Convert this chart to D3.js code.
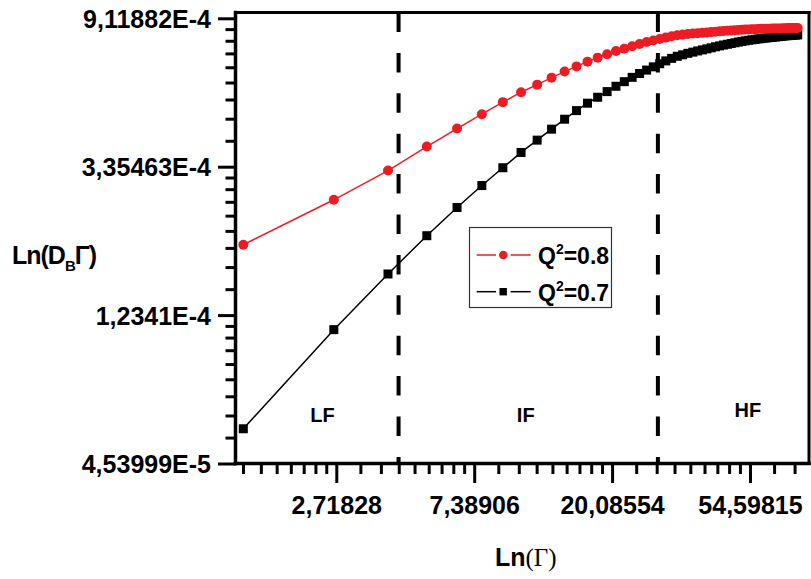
<!DOCTYPE html>
<html><head><meta charset="utf-8">
<script src="https://cdn.jsdelivr.net/npm/d3@7"></script>
<style>
html,body{margin:0;padding:0;background:#fff;}
svg{display:block;font-family:"Liberation Sans",Arial,sans-serif;font-weight:bold;}
</style></head>
<body>
<svg id="chart" width="811" height="579"></svg>
<script>
// ---- data ----
const gammaVals = [1.385,2.67,3.955,5.24,6.525,7.81,9.095,10.38,11.665,12.95,14.235,15.52,16.805,18.09,19.375,20.66,21.945,23.23,24.515,25.8,27.085,28.37,29.655,30.94,32.225,33.51,34.795,36.08,37.365,38.65,39.935,41.22,42.505,43.79,45.075,46.36,47.645,48.93,50.215,51.5,52.785,54.07,55.355,56.64,57.925,59.21,60.495,61.78,63.065,64.35,65.635,66.92,68.205,69.49,70.775,72.06,73.345,74.63,75.915,77.2];
const lnDBG_Q08 = [-8.526,-8.223,-8.026,-7.864,-7.743,-7.646,-7.565,-7.498,-7.447,-7.400,-7.359,-7.324,-7.292,-7.265,-7.242,-7.220,-7.205,-7.188,-7.173,-7.160,-7.150,-7.139,-7.130,-7.121,-7.114,-7.110,-7.106,-7.103,-7.100,-7.098,-7.095,-7.093,-7.090,-7.088,-7.086,-7.084,-7.082,-7.080,-7.079,-7.077,-7.076,-7.075,-7.074,-7.073,-7.072,-7.071,-7.071,-7.070,-7.070,-7.069,-7.069,-7.068,-7.068,-7.067,-7.067,-7.066,-7.066,-7.066,-7.065,-7.065];
const lnDBG_Q07 = [-9.766,-9.098,-8.723,-8.465,-8.275,-8.127,-8.007,-7.904,-7.821,-7.747,-7.680,-7.622,-7.572,-7.532,-7.494,-7.458,-7.427,-7.398,-7.372,-7.349,-7.327,-7.306,-7.287,-7.270,-7.256,-7.246,-7.236,-7.228,-7.220,-7.213,-7.206,-7.199,-7.192,-7.186,-7.180,-7.175,-7.170,-7.165,-7.160,-7.156,-7.152,-7.148,-7.145,-7.142,-7.139,-7.137,-7.134,-7.132,-7.130,-7.128,-7.126,-7.124,-7.122,-7.120,-7.118,-7.117,-7.116,-7.114,-7.113,-7.112];
const seriesNames = ["0.8","0.7"];
const xTickExp = [1,2,3,4];
const xTickLabels = ["2,71828","7,38906","20,08554","54,59815"];
const yTickExp = [-10,-9,-8,-7];
const yTickLabels = ["4,53999E-5","1,2341E-4","3,35463E-4","9,11882E-4"];
const regionBounds = [4.27, 28.0];
const regionNames = ["LF","IF","HF"];
const regionLabelGamma = [2.46, 10.74, 53.8];
const regionLabelLnY = [-9.718, -9.718, -9.687];

// ---- layout ----
const L = 235.5, R = 809, T = 12.5, B = 463.5;
const svg = d3.select("#chart");
const x = d3.scaleLog().base(Math.E).domain([Math.exp(0.269), Math.exp(4.428)]).range([L, R]);
const y = d3.scaleLinear().domain([-10, -10 + (B - T) / 148.4]).range([B, T]);
const RED = "#ec1c24";

// minor ticks (8 linear subdivisions between e^n and e^(n+1))
function minorLn(nFrom, nTo) {
  const out = [];
  for (let n = nFrom; n < nTo; n++) {
    const a = Math.exp(n), b = Math.exp(n + 1);
    for (let j = 1; j <= 8; j++) out.push(Math.log(a + j * (b - a) / 9));
  }
  return out;
}
const yMinor = minorLn(-10, -6).filter(v => v > y.domain()[0] && v < y.domain()[1]);
const xMinor = minorLn(0, 5).map(Math.exp).filter(v => v > x.domain()[0] && v < x.domain()[1]);

// axes
const yAxisMinor = svg.append("g").attr("transform", `translate(${L},0)`)
  .call(d3.axisLeft(y).tickValues(yMinor).tickSize(10).tickFormat(""));
const yAxis = svg.append("g").attr("transform", `translate(${L},0)`)
  .call(d3.axisLeft(y).tickValues(yTickExp).tickSize(17.5).tickPadding(7)
    .tickFormat((d, i) => yTickLabels[i]));
const xAxisMinor = svg.append("g").attr("transform", `translate(0,${B})`)
  .call(d3.axisBottom(x).tickValues(xMinor).tickSize(10.5).tickFormat(""));
const xAxis = svg.append("g").attr("transform", `translate(0,${B})`)
  .call(d3.axisBottom(x).tickValues(xTickExp.map(Math.exp)).tickSize(19.5).tickPadding(13)
    .tickFormat((d, i) => xTickLabels[i]));
[yAxisMinor, yAxis, xAxisMinor, xAxis].forEach(g => {
  g.select(".domain").remove();
  g.selectAll(".tick line").attr("stroke", "#000").attr("stroke-width", 3);
  g.selectAll(".tick text").attr("fill", "#000").attr("font-size", 25)
    .attr("font-family", "'Liberation Sans',Arial,sans-serif").attr("font-weight", "bold");
});
yAxis.selectAll(".tick text").attr("dy", "0.36em");
xAxis.selectAll(".tick text").attr("dy", "0.71em");

// dashed region boundaries
svg.append("g").selectAll("line").data(regionBounds).join("line")
  .attr("x1", d => x(d)).attr("x2", d => x(d)).attr("y1", T).attr("y2", B)
  .attr("stroke", "#000").attr("stroke-width", 4).attr("stroke-dasharray", "19.5,20.9");

// region labels
svg.append("g").selectAll("text").data(regionNames).join("text")
  .attr("x", (d, i) => x(regionLabelGamma[i])).attr("y", (d, i) => y(regionLabelLnY[i]))
  .attr("text-anchor", "middle").attr("font-size", 20).text(d => d);

// series
const line = d3.line().x(d => x(d[0])).y(d => y(d[1]));
const redData = gammaVals.map((g, i) => [g, lnDBG_Q08[i]]);
const blackData = gammaVals.map((g, i) => [g, lnDBG_Q07[i]]);
svg.append("path").datum(blackData).attr("d", line).attr("fill", "none").attr("stroke", "#000").attr("stroke-width", 1.5);
svg.append("g").selectAll("rect").data(blackData).join("rect")
  .attr("x", d => x(d[0]) - 4.5).attr("y", d => y(d[1]) - 4.5).attr("width", 9).attr("height", 9).attr("fill", "#000");
svg.append("path").datum(redData).attr("d", line).attr("fill", "none").attr("stroke", RED).attr("stroke-width", 1.5);
svg.append("g").selectAll("circle").data(redData).join("circle")
  .attr("cx", d => x(d[0])).attr("cy", d => y(d[1])).attr("r", 5).attr("fill", RED);

// frame
const frame = svg.append("g").attr("stroke", "#000").attr("stroke-linecap", "square");
frame.append("line").attr("x1", L).attr("x2", L).attr("y1", T).attr("y2", B).attr("stroke-width", 3.5);
frame.append("line").attr("x1", L).attr("x2", R).attr("y1", B).attr("y2", B).attr("stroke-width", 3.5);
frame.append("line").attr("x1", L).attr("x2", R).attr("y1", T).attr("y2", T).attr("stroke-width", 3);
frame.append("line").attr("x1", R).attr("x2", R).attr("y1", T).attr("y2", B).attr("stroke-width", 3);

// legend
const lg = svg.append("g");
lg.append("rect").attr("x", 469.5).attr("y", 227.5).attr("width", 142).attr("height", 80)
  .attr("fill", "#fff").attr("stroke", "#333").attr("stroke-width", 1.2);
const rows = [{c: RED, y: 255, name: seriesNames[0], shape: "circle"},
              {c: "#000", y: 291.7, name: seriesNames[1], shape: "square"}];
rows.forEach(r => {
  lg.append("line").attr("x1", 476.7).attr("x2", 496).attr("y1", r.y).attr("y2", r.y).attr("stroke", r.c).attr("stroke-width", 1.5);
  lg.append("line").attr("x1", 510.5).attr("x2", 530.7).attr("y1", r.y).attr("y2", r.y).attr("stroke", r.c).attr("stroke-width", 1.5);
  if (r.shape === "circle") lg.append("circle").attr("cx", 503.3).attr("cy", r.y).attr("r", 4.3).attr("fill", r.c);
  else lg.append("rect").attr("x", 499.5).attr("y", r.y - 3.7).attr("width", 7.4).attr("height", 7.4).attr("fill", r.c);
  const t = lg.append("text").attr("x", 538).attr("y", r.y + 9).attr("font-size", 23);
  t.append("tspan").text("Q");
  t.append("tspan").attr("dy", -10).attr("font-size", 14).text("2");
  t.append("tspan").attr("dy", 10).text("=" + r.name);
});

// axis titles
const xt = svg.append("text").attr("x", 495).attr("y", 566).attr("font-size", 25);
xt.append("tspan").text("Ln");
xt.append("tspan").attr("font-family", "'Liberation Serif','Times New Roman',serif").attr("font-weight", "normal").text("(Γ)");
const yt = svg.append("text").attr("x", 12).attr("y", 264).attr("font-size", 25).attr("letter-spacing", -1);
yt.append("tspan").text("Ln(D");
yt.append("tspan").attr("dy", 7).attr("font-size", 15).text("B");
yt.append("tspan").attr("dy", -7).text("Γ)");
</script>
</body></html>
